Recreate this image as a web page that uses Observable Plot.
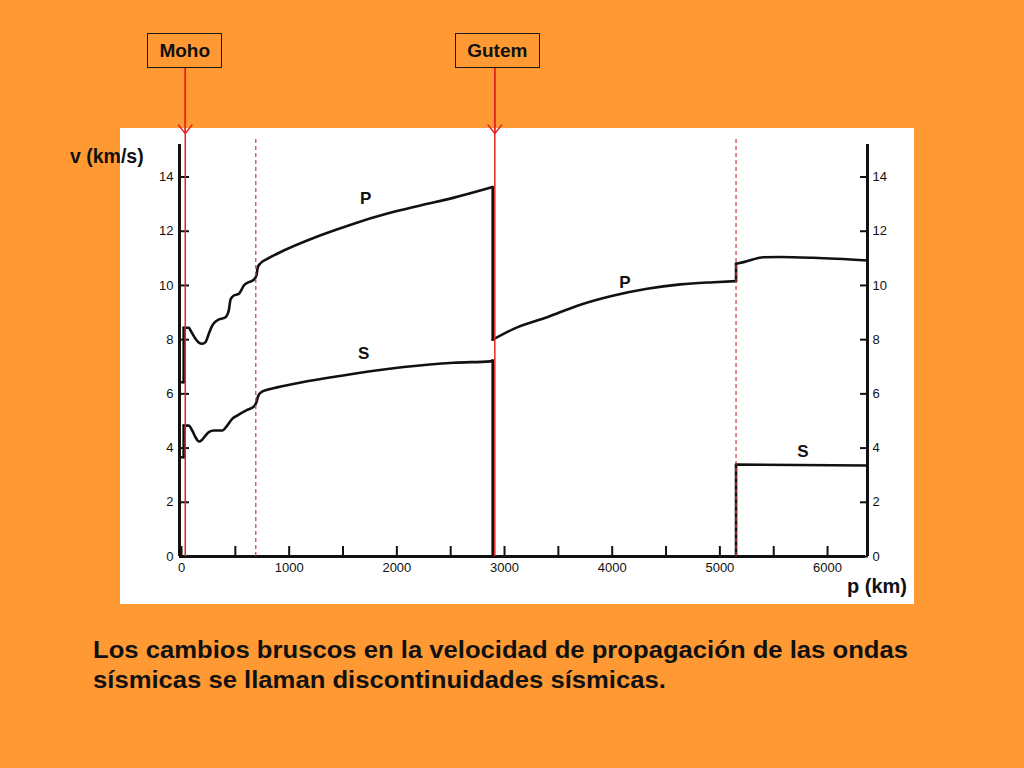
<!DOCTYPE html>
<html>
<head>
<meta charset="utf-8">
<script src="https://cdn.jsdelivr.net/npm/d3@7"></script>
<script src="https://cdn.jsdelivr.net/npm/@observablehq/plot@0.6"></script>
<style>
html,body{margin:0;padding:0;}
body{width:1024px;height:768px;background:#FF9933;position:relative;overflow:hidden;font-family:"Liberation Sans",Arial,sans-serif;color:#111;}
#paper{position:absolute;left:120px;top:128px;width:794px;height:476px;background:#fff;}
#chart{position:absolute;left:0;top:0;}
.box{position:absolute;top:33px;height:35px;box-sizing:border-box;border:1.5px solid #1a1a1a;display:flex;align-items:center;justify-content:center;font-weight:bold;font-size:19px;}
.lab{position:absolute;font-weight:bold;line-height:1;white-space:nowrap;}
#caption{position:absolute;left:93px;top:635px;font-weight:bold;font-size:23px;line-height:30px;white-space:nowrap;transform-origin:0 0;}
</style>
</head>
<body>
<div id="paper"></div>
<div id="chart"></div>
<div class="lab" id="ylab" style="left:70px;top:147px;font-size:19.5px;">v (km/s)</div>
<div class="lab" id="xlab" style="left:847px;top:576px;font-size:20px;">p (km)</div>
<div id="caption"><span id="cap1">Los cambios bruscos en la velocidad de propagación de las ondas</span><br>sísmicas se llaman discontinuidades sísmicas.</div>
<script>
// P wave velocity (km/s) vs depth (km)
const pDepth = [0, 20, 20, 68, 84, 130, 161, 192, 223, 254, 285, 331, 409, 439, 455, 486, 532, 554, 579, 625, 671, 696, 709, 734, 796, 888, 1292, 1600, 1912, 2219, 2531, 2890, 2890, 3086, 3396, 3705, 4014, 4324, 4633, 4943, 5150, 5150, 5221, 5406, 5562, 5871, 6371];
const pVel   = [6.43, 6.43, 8.44, 8.44, 8.34, 8.03, 7.89, 7.85, 7.91, 8.22, 8.52, 8.71, 8.83, 9.08, 9.47, 9.63, 9.69, 9.82, 10.0, 10.12, 10.21, 10.37, 10.68, 10.82, 10.98, 11.17, 11.85, 12.28, 12.65, 12.95, 13.24, 13.63, 8.0, 8.4, 8.83, 9.29, 9.63, 9.88, 10.04, 10.12, 10.16, 10.8, 10.86, 11.04, 11.05, 11.02, 10.92];
// S wave velocity (km/s) vs depth (km)
const sDepth = [0, 20, 20, 68, 99, 130, 161, 192, 223, 254, 300, 378, 424, 471, 517, 610, 671, 696, 712, 740, 796, 888, 981, 1600, 2064, 2528, 2869, 2890, 2890, 5150, 5150, 6371];
const sVel   = [3.66, 3.66, 4.83, 4.83, 4.65, 4.40, 4.24, 4.31, 4.46, 4.59, 4.65, 4.65, 4.83, 5.08, 5.2, 5.41, 5.53, 5.69, 5.92, 6.06, 6.15, 6.24, 6.32, 6.74, 6.99, 7.15, 7.2, 7.23, 0, 0, 3.39, 3.36];

// wave labels
const waveNames = ["P", "S", "P", "S"];
const waveDepth = [1710, 1692, 4117, 5771];
const waveVel = [13.2, 7.5, 10.1, 3.87];

// discontinuities
const boundaryNames = ["Moho", "Gutem"];
const boundaryDepth = [35, 2910];
const dashedDepth = [690, 5150];

// axes
const yTicks = [0, 2, 4, 6, 8, 10, 12, 14];
const xMinorTicks = [0, 500, 1000, 1500, 2000, 2500, 3000, 3500, 4000, 4500, 5000, 5500, 6000];
const xTicks = [0, 1000, 2000, 3000, 4000, 5000, 6000];
const earthRadius = 6371;
const vTop = 15.2;
const boxBottomV = 18.0;
const arrowTipV = 15.6;
const dashTopV = 15.42;

// split a profile into smooth pieces and vertical jumps
function segments(depths, vels, name) {
  const rows = [];
  let seg = 0;
  for (let i = 0; i < depths.length; i++) {
    if (i > 0 && depths[i] === depths[i - 1]) {
      seg++;
      rows.push({depth: depths[i - 1], v: vels[i - 1], z: name + seg});
      rows.push({depth: depths[i], v: vels[i], z: name + seg});
      seg++;
    }
    rows.push({depth: depths[i], v: vels[i], z: name + seg});
  }
  return rows;
}
const pData = segments(pDepth, pVel, "P");
const sData = segments(sDepth, sVel, "S");
const labels = waveNames.map((t, i) => ({t, depth: waveDepth[i], v: waveVel[i]}));

const RED = "#e8231e";
const chart = Plot.plot({
  width: 1024,
  height: 768,
  marginLeft: 181,
  marginRight: 157,
  marginTop: 144,
  marginBottom: 212,
  x: {domain: [0, earthRadius], axis: null},
  y: {domain: [0, vTop], axis: null},
  style: {background: "transparent", overflow: "visible", fontFamily: "Liberation Sans, Arial, sans-serif", fontSize: "13px", color: "#111"},
  marks: [
    // inward ticks
    Plot.axisY(yTicks, {anchor: "left", tickSize: -8, tickFormat: () => "", strokeWidth: 2, label: null}),
    Plot.axisY(yTicks, {anchor: "right", tickSize: -8, tickFormat: () => "", strokeWidth: 2, label: null}),
    Plot.axisX(xMinorTicks, {anchor: "bottom", tickSize: -10, tickFormat: () => "", strokeWidth: 2, label: null}),
    // tick labels
    Plot.axisY(yTicks, {anchor: "left", tickSize: 0, tickPadding: 8, tickFormat: d => String(d), label: null, fill: "#111"}),
    Plot.axisY(yTicks, {anchor: "right", tickSize: 0, tickPadding: 5, tickFormat: d => String(d), label: null, fill: "#111"}),
    Plot.axisX(xTicks, {anchor: "bottom", tickSize: 0, tickPadding: 6, tickFormat: d => String(d), label: null, fill: "#111"}),
    // axis lines
    Plot.ruleX([0], {y1: 0, y2: vTop, stroke: "#111", strokeWidth: 3, dx: -2}),
    Plot.ruleX([earthRadius], {y1: 0, y2: vTop, stroke: "#111", strokeWidth: 3}),
    Plot.ruleY([0], {x1: 0, x2: earthRadius, stroke: "#111", strokeWidth: 3, dx: -2}),
    // velocity curves
    Plot.line(pData, {x: "depth", y: "v", z: "z", curve: "monotone-x", stroke: "#111", strokeWidth: 2.6, strokeLinejoin: "round", strokeLinecap: "round"}),
    Plot.line(sData, {x: "depth", y: "v", z: "z", curve: "monotone-x", stroke: "#111", strokeWidth: 2.6, strokeLinejoin: "round", strokeLinecap: "round"}),
    Plot.text(labels, {x: "depth", y: "v", text: "t", fontSize: 17, fontWeight: "bold", fill: "#111"}),
    // discontinuity markers
    Plot.ruleX(dashedDepth, {y1: 0, y2: dashTopV, stroke: "#cf3a40", strokeWidth: 1.2, strokeDasharray: "4,3"}),
    Plot.ruleX(boundaryDepth, {y1: 0, y2: boxBottomV, stroke: RED, strokeWidth: 1.5}),
    Plot.arrow(boundaryDepth, {x1: d => d, x2: d => d, y1: boxBottomV, y2: arrowTipV, stroke: RED, strokeWidth: 1.5, headLength: 11, headAngle: 75})
  ]
});
document.getElementById("chart").appendChild(chart);

// boxes around the boundary names
const xs = chart.scale("x");
const boxWidths = [75, 85];
const boxShift = [0, 3];
boundaryNames.forEach((name, i) => {
  const b = document.createElement("div");
  b.className = "box";
  b.textContent = name;
  const cx = xs.apply(boundaryDepth[i]) + boxShift[i];
  b.style.left = (cx - boxWidths[i] / 2) + "px";
  b.style.width = boxWidths[i] + "px";
  document.body.appendChild(b);
});

// stretch the caption to the slide's text width
const cap = document.getElementById("caption");
const w = document.getElementById("cap1").getBoundingClientRect().width;
cap.style.transform = "scaleX(" + (815 / w) + ")";
</script>
</body>
</html>
